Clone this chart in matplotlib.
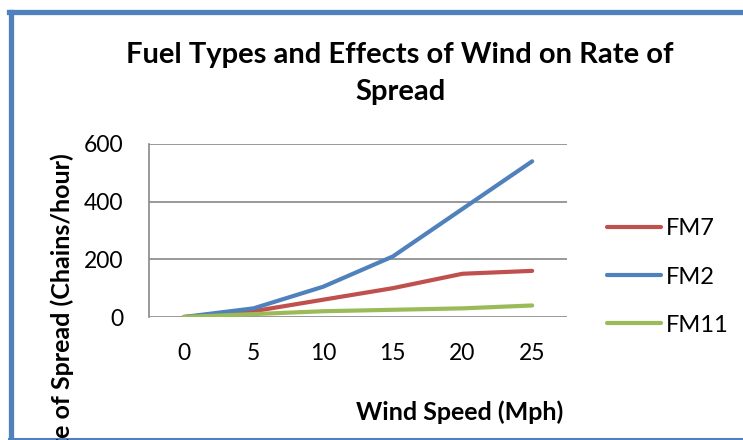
import matplotlib
matplotlib.use("Agg")
import matplotlib.pyplot as plt
from matplotlib.lines import Line2D

categories = ["0", "5", "10", "15", "20", "25"]
fm7 = [0, 20, 60, 100, 150, 160]
fm2 = [0, 30, 105, 210, 375, 540]
fm11 = [0, 10, 20, 25, 30, 40]
yticks = [0, 200, 400, 600]

FONT = "Lato"
W, H = 743, 440
fig = plt.figure(figsize=(W / 100, H / 100), dpi=100)

def fx(px):
    return px / W

def fy(py):
    return 1 - py / H

LW = 3.0
ax = fig.add_axes([fx(149), fy(317), fx(567) - fx(149), fy(144) - fy(317)])
x = list(range(len(categories)))
ax.plot(x, fm7, color="#C0504D", lw=LW, solid_capstyle="round", label="FM7", zorder=3)
ax.plot(x, fm2, color="#4F81BD", lw=LW, solid_capstyle="round", label="FM2", zorder=3)
ax.plot(x, fm11, color="#9BBB59", lw=LW, solid_capstyle="round", label="FM11", zorder=4)
ax.set_xlim(-0.5, len(categories) - 0.5)
ax.set_ylim(0, 600)
ax.set_yticks(yticks)
ax.set_xticks(x)
ax.set_xticklabels(categories)
ax.grid(axis="y", color="#878787", lw=1.2)
ax.set_axisbelow(True)
for s in ["top", "right", "bottom"]:
    ax.spines[s].set_visible(False)
ax.spines["left"].set_color("#878787")
ax.spines["left"].set_linewidth(1.2)
ax.tick_params(axis="y", length=0, labelsize=16.5, pad=18.5)
ax.tick_params(axis="x", length=0, labelsize=16.5, pad=19)
for t in ax.get_xticklabels() + ax.get_yticklabels():
    t.set_fontfamily(FONT)

fig.text(fx(400), fy(55), "Fuel Types and Effects of Wind on Rate of", ha="center", va="center",
         fontsize=21, fontweight="bold", family=FONT)
fig.text(fx(400), fy(92), "Spread", ha="center", va="center",
         fontsize=21, fontweight="bold", family=FONT)
fig.text(fx(460), fy(412), "Wind Speed (Mph)", ha="center", va="center",
         fontsize=18, fontweight="bold", family=FONT)
fig.text(fx(62), fy(153), "Rate of Spread (Chains/hour)", ha="center", va="top", rotation=90,
         fontsize=18, fontweight="bold", family=FONT)

handles = [Line2D([0], [0], color=c, lw=LW, solid_capstyle="round") for c in ["#C0504D", "#4F81BD", "#9BBB59"]]
leg = fig.legend(handles, ["FM7", "FM2", "FM11"], loc="center left",
                 bbox_to_anchor=(fx(600), fy(277)), frameon=False, handlelength=2.3,
                 handletextpad=0.2, labelspacing=1.15, borderpad=0.3, borderaxespad=0,
                 prop={"family": FONT, "size": 17})

# chart frame
fig.add_artist(Line2D([fx(10.5), fx(10.5)], [fy(12), fy(442)], color="#4F81BD", lw=3.8, transform=fig.transFigure))
fig.add_artist(Line2D([fx(8.6), fx(745)], [fy(12), fy(12)], color="#4F81BD", lw=3.8, transform=fig.transFigure))
fig.add_artist(Line2D([fx(8.6), fx(745)], [fy(438.5), fy(438.5)], color="#4F81BD", lw=1.5, transform=fig.transFigure))

fig.savefig("out.png", dpi=100)
